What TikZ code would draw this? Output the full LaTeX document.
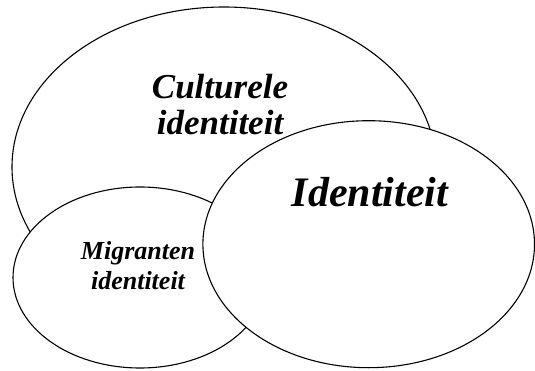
\documentclass[tikz,border=0pt]{standalone}
\usepackage{fontspec}
\setmainfont{Liberation Serif}
\usetikzlibrary{shapes.geometric, positioning}

\begin{document}
\begin{tikzpicture}[
    x=1pt, y=1pt,
    set/.style={ellipse, draw, fill=white, line width=1.1pt, inner sep=0pt},
    bigtxt/.style={font=\fontsize{35}{36}\selectfont\bfseries\itshape, align=center},
    maintxt/.style={font=\fontsize{42}{44}\selectfont\bfseries\itshape},
    smalltxt/.style={font=\fontsize{26}{30}\selectfont\bfseries\itshape, align=center}
    ]
\useasboundingbox (0,0) rectangle (535,370);
\node[set, minimum width=424pt, minimum height=320pt] (cult) at (224,203) {};
\node[bigtxt] (cultlbl) at (220,265) {Culturele\\identiteit};
\node[set, minimum width=254pt, minimum height=181pt] (migr) at (140,92.5) {};
\node[set, minimum width=331.6pt, minimum height=247pt] (ident) at (368.7,125.8) {};

\node[maintxt, anchor=base] (identlbl) at (370,164) {Identiteit};
\node[smalltxt] (migrlbl) at (138,104) {Migranten\\identiteit};
\end{tikzpicture}
\end{document}
